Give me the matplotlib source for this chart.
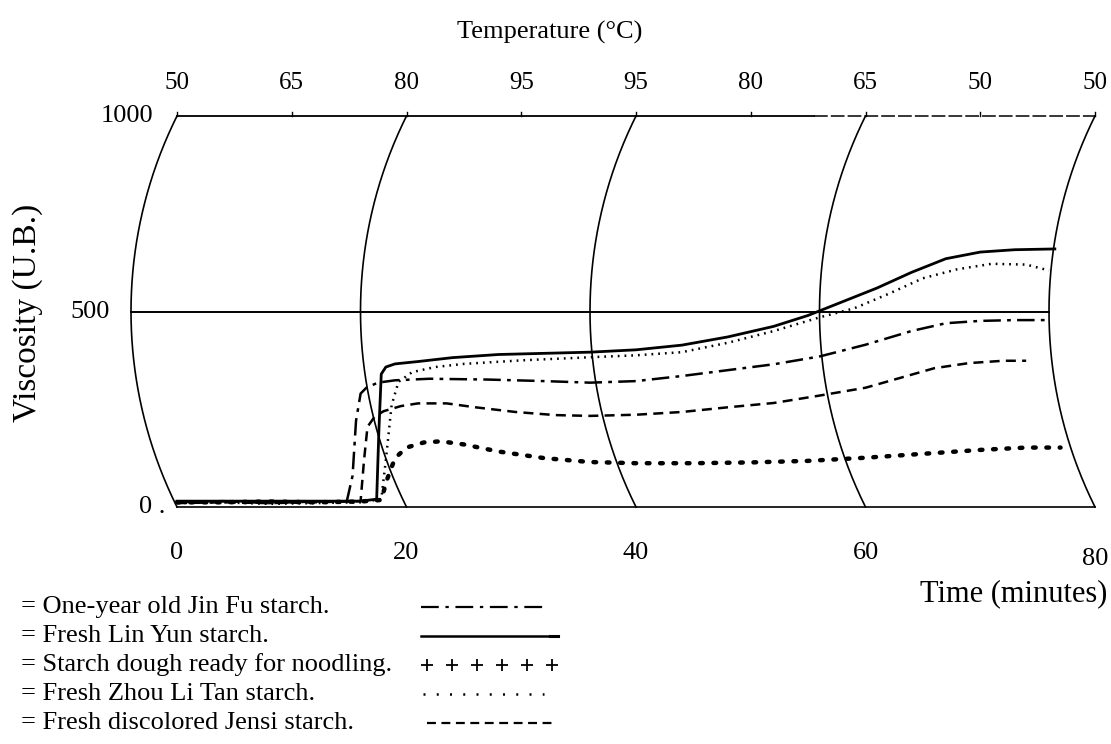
import numpy as np
import matplotlib
matplotlib.use("Agg")
import matplotlib.pyplot as plt

plt.rcParams['font.family'] = ['Liberation Serif', 'DejaVu Serif']

# --- Data ---
temp_labels = ["50", "65", "80", "95", "95", "80", "65", "50", "50"]
temp_times = [0, 10, 20, 30, 40, 50, 60, 70, 80]
time_ticks = [0, 20, 40, 60, 80]
visc_ticks = [0, 500, 1000]

t_jinfu = [0, 4, 8, 12, 14.8, 15.3, 15.6, 16.0, 16.5, 17.5, 19, 22, 27, 32, 36, 40,
           44, 48, 52, 56, 60, 64, 67, 70, 73, 76]
v_jinfu = [12, 15, 10, 14, 15, 80, 220, 290, 305, 318, 324, 328, 326, 322, 318, 322,
           335, 350, 365, 385, 415, 450, 470, 476, 478, 478]

t_linyun = [0, 4, 8, 12, 16, 17.4, 17.6, 17.8, 18.2, 19, 21, 24, 28, 32, 36, 40, 44,
            48, 52, 55, 58, 61, 64, 67, 70, 73, 76.5]
v_linyun = [15, 15, 15, 15, 15, 20, 200, 340, 358, 366, 372, 382, 390, 393, 396, 402,
            414, 435, 462, 490, 525, 560, 600, 635, 652, 658, 660]

t_dough = [0, 4, 8, 12, 16, 17.8, 18.3, 19, 20, 21.5, 23, 25, 28, 32, 36, 40, 45, 50,
           55, 60, 65, 70, 74, 77]
v_dough = [12, 12, 14, 12, 14, 18, 70, 125, 152, 165, 168, 160, 142, 125, 115, 112, 112,
           114, 118, 126, 136, 146, 152, 152]

t_zhou = [0, 4, 8, 12, 16, 17.8, 18.2, 18.7, 19.3, 20.5, 22.5, 25, 30, 36, 40, 44, 48,
          52, 56, 59, 62, 65, 68, 71, 74, 76]
v_zhou = [10, 12, 8, 10, 12, 20, 120, 260, 320, 345, 358, 366, 375, 383, 388, 396, 420,
          450, 485, 508, 545, 585, 608, 622, 620, 605]

t_jensi = [0, 4, 8, 12, 16.0, 16.3, 16.6, 17.2, 18, 19.5, 21, 23.5, 26, 29.5, 33, 36,
           40, 44, 48, 52, 56, 60, 63, 66, 69, 72, 74]
v_jensi = [10, 12, 10, 12, 15, 120, 205, 230, 245, 258, 265, 265, 255, 243, 235, 233,
           236, 243, 255, 266, 285, 305, 330, 355, 368, 374, 374]

legend_names = ["= One-year old Jin Fu starch.",
                "= Fresh Lin Yun starch.",
                "= Starch dough ready for noodling.",
                "= Fresh Zhou Li Tan starch.",
                "= Fresh discolored Jensi starch."]

# --- Figure / axes (pixel layout of the scan) ---
W, H = 1111, 744
fig = plt.figure(figsize=(W / 100, H / 100), dpi=100)
x0, x1, y_top, y_bot = 177, 1095, 116, 507
ax = fig.add_axes([x0 / W, 1 - y_bot / H, (x1 - x0) / W, (y_bot - y_top) / H])
ax.set_xlim(0, 80)
ax.set_ylim(0, 1000)
ax.axis('off')

px_per_min = (x1 - x0) / 80
px_per_bu = (y_bot - y_top) / 1000

# curved time lines of the chart paper (circular arcs, bulging left)
sag = 46.0
half = (y_bot - y_top) / 2
R = (half ** 2 + sag ** 2) / (2 * sag)
yy = np.linspace(-half, half, 200)
arc_dx = R - np.sqrt(R ** 2 - yy ** 2) - sag  # pixels, 0 at ends, -sag at middle
arc_v = (yy + half) / px_per_bu
for t in time_ticks:
    ax.plot(t + arc_dx / px_per_min, arc_v, color='black', lw=1.2, clip_on=False)

# horizontal guide lines
ax.plot([0, 55.5], [1000, 1000], color='black', lw=1.3, clip_on=False)
ax.plot([55.5, 80], [1000, 1000], color='black', lw=1.1, ls=(0, (9, 2)), clip_on=False)
ax.plot([-sag / px_per_min, 80 - sag / px_per_min], [500, 500], color='black', lw=1.4,
        clip_on=False)
ax.plot([0, 80], [0, 0], color='black', lw=1.2, clip_on=False)
for t in temp_times:
    ax.plot([t, t], [1000, 1000 + 4 / px_per_bu], color='black', lw=1.0, clip_on=False)

# --- Curves ---
ax.plot(t_jinfu, v_jinfu, color='black', lw=1.8, ls=(0, (7, 2.5, 1.5, 2.5)), clip_on=False)
ax.plot(t_linyun, v_linyun, color='black', lw=2.0, clip_on=False)
ax.plot(t_dough, v_dough, color='black', lw=3.2, ls=(0, (0.6, 2.4)),
        dash_capstyle='round', clip_on=False)
ax.plot(t_zhou, v_zhou, color='black', lw=1.8, ls=(0, (0.7, 2.0)), clip_on=False)
ax.plot(t_jensi, v_jensi, color='black', lw=1.8, ls=(0, (4, 2.5)), clip_on=False)

# --- Axis text ---
for t, lab in zip(temp_times, temp_labels):
    ax.text(t, 1000 + 33 / px_per_bu, lab, ha='center', va='center', fontsize=18)
for t in time_ticks:
    drop = 52 if t == 80 else 46
    ax.text(t, -drop / px_per_bu, str(t), ha='center', va='center', fontsize=19)
ax.text(-24 / px_per_min, 1000, "1000", ha='right', va='center', fontsize=19)
ax.text(-67 / px_per_min, 500, "500", ha='right', va='center', fontsize=19)
ax.text(-12 / px_per_min, 0, "0 .", ha='right', va='center', fontsize=19)

fig.text(550 / W, 1 - 32 / H, "Temperature (\u00b0C)", ha='center', va='center', fontsize=19)
fig.text(28 / W, 1 - 313 / H, "Viscosity (U.B.)", ha='center', va='center',
         rotation=90, fontsize=24)
fig.text(1107 / W, 1 - 594 / H, "Time (minutes)", ha='right', va='center', fontsize=22)

# --- Legend (typed key, as in the original) ---
rows_y = [607, 636, 665, 694, 723]
for name, ry in zip(legend_names, rows_y):
    fig.text(21 / W, 1 - ry / H, name, ha='left', va='center', fontsize=19)

def fig_line(xs, ry, **kw):
    fig.add_artist(plt.Line2D([x / W for x in xs], [1 - ry / H] * len(xs),
                              color='black', **kw))

fig_line([421, 548], rows_y[0], lw=1.6, ls=(0, (8, 3, 1.5, 3)))
fig_line([421, 548], rows_y[1], lw=1.8)
fig_line([550, 558], rows_y[1], lw=2.2)
fig_line([427, 452, 477, 502, 527, 552], rows_y[2], ls='none', marker='+',
         markersize=8, markeredgewidth=1.3)
fig_line([423, 544], rows_y[3], lw=1.8, ls=(0, (0.8, 4.5)))
fig_line([427, 554], rows_y[4], lw=1.6, ls=(0, (4, 2.5)))

fig.savefig("out.png", dpi=100)
